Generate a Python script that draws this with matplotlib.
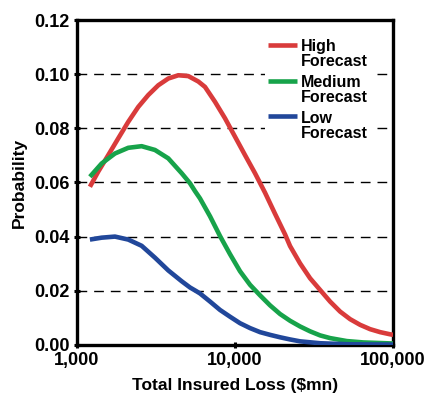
import matplotlib

matplotlib.use("Agg")
import matplotlib.pyplot as plt  # noqa: E402
from matplotlib.legend_handler import HandlerLine2D  # noqa: E402
from matplotlib.ticker import FixedLocator, NullLocator  # noqa: E402

plt.rcParams["font.family"] = ["Liberation Sans", "DejaVu Sans"]
plt.rcParams["font.weight"] = "bold"

# values (loss in $mn, probability)
high_loss = [1208, 1364, 1578, 1826, 2112, 2443, 2827, 3270, 3783, 4377,
             5063, 5858, 6458, 7470, 8644, 10000, 11568, 13383, 15485,
             17915, 20724, 22290, 25786, 29838, 34513, 39930, 46200, 53430,
             61820, 71520, 82760, 95720, 100000]
high_prob = [0.0584, 0.0640, 0.0701, 0.0763, 0.0824, 0.0879, 0.0923, 0.0959,
             0.0984, 0.0996, 0.0993, 0.0973, 0.0953, 0.0898, 0.0837, 0.0769,
             0.0701, 0.0634, 0.0562, 0.0484, 0.0408, 0.0365, 0.0301, 0.0246,
             0.0203, 0.0160, 0.0123, 0.0095, 0.0074, 0.0058, 0.0047, 0.0039,
             0.0037]

med_loss = [1208, 1433, 1740, 2112, 2567, 3117, 3783, 4599, 5191, 5582, 6004,
            6948, 8036, 9298, 10755, 12441, 14394, 16653, 19268, 22290,
            25786, 29838, 34513, 39930, 50930, 64580, 100000]
med_prob = [0.0621, 0.0670, 0.0707, 0.0728, 0.0734, 0.0720, 0.0689, 0.0634,
            0.0597, 0.0568, 0.0541, 0.0475, 0.0402, 0.0335, 0.0272, 0.0222,
            0.0183, 0.0146, 0.0114, 0.0089, 0.0068, 0.0050, 0.0035, 0.0025,
            0.0014, 0.0009, 0.0005]

low_loss = [1208, 1433, 1740, 2112, 2567, 3117, 3783, 4599, 5191, 5665, 6004,
            6948, 8036, 9298, 10755, 12441, 14394, 16653, 19268, 22290, 25786,
            34513, 53430, 100000]
low_prob = [0.0389, 0.0396, 0.0400, 0.0389, 0.0366, 0.0322, 0.0275, 0.0235,
            0.0212, 0.0199, 0.0190, 0.0160, 0.0129, 0.0104, 0.0080, 0.0062,
            0.0047, 0.0037, 0.0028, 0.0020, 0.0013, 0.0006, 0.0002, 0.0001]

y_ticks = [0.00, 0.02, 0.04, 0.06, 0.08, 0.10, 0.12]
x_ticks = [1000, 10000, 100000]
x_labels = ["1,000", "10,000", "100,000"]


class FirstLineHandler(HandlerLine2D):
    """Put the legend swatch level with the first line of a two-line label."""

    def create_artists(self, legend, orig_handle, xdescent, ydescent, width,
                       height, fontsize, trans):
        arts = super().create_artists(legend, orig_handle, xdescent, ydescent,
                                      width, height, fontsize, trans)
        for a in arts:
            a.set_ydata([y + 0.62 * fontsize for y in a.get_ydata()])
        return arts


fig = plt.figure(figsize=(4.25, 4.01), dpi=100)
ax = fig.add_axes([0.181, 0.140, 0.744, 0.810])

for y in y_ticks[1:-1]:
    ax.axhline(y, color="black", lw=1.0, ls=(0, (7, 5)), zorder=1)

kw = dict(lw=3.3, zorder=3, solid_joinstyle="round", solid_capstyle="butt")
ax.plot(high_loss, high_prob, color="#d93b3b", label="High\nForecast", **kw)
ax.plot(med_loss, med_prob, color="#17a34a", label="Medium\nForecast", **kw)
ax.plot(low_loss, low_prob, color="#21479a", label="Low\nForecast", **kw)

ax.set_xscale("log")
ax.set_xlim(1000, 100000)
ax.set_ylim(0, 0.12)
ax.xaxis.set_major_locator(FixedLocator(x_ticks))
ax.xaxis.set_minor_locator(NullLocator())
ax.set_xticklabels(x_labels)
ax.set_yticks(y_ticks)
ax.set_yticklabels([f"{v:.2f}" for v in y_ticks])
ax.tick_params(axis="both", labelsize=13, width=2.2, length=5,
               direction="inout", pad=3)
for s in ax.spines.values():
    s.set_linewidth(2.4)

ax.set_xlabel("Total Insured Loss ($mn)", fontsize=12.5, fontweight="bold",
              labelpad=6)
ax.set_ylabel("Probability", fontsize=12.5, fontweight="bold", labelpad=5)

leg = ax.legend(loc="upper right", bbox_to_anchor=(0.93, 0.95),
                frameon=True, fontsize=11.5, handlelength=1.8,
                handletextpad=0.25, labelspacing=0.35, borderpad=0.2,
                borderaxespad=0.0,
                handler_map={plt.Line2D: FirstLineHandler()})
leg.get_frame().set_edgecolor("none")
leg.get_frame().set_facecolor("white")
leg.get_frame().set_alpha(1)
leg.get_frame().set_boxstyle("square", pad=0)
for t in leg.get_texts():
    t.set_linespacing(1.0)

fig.savefig("out.png", dpi=100)
